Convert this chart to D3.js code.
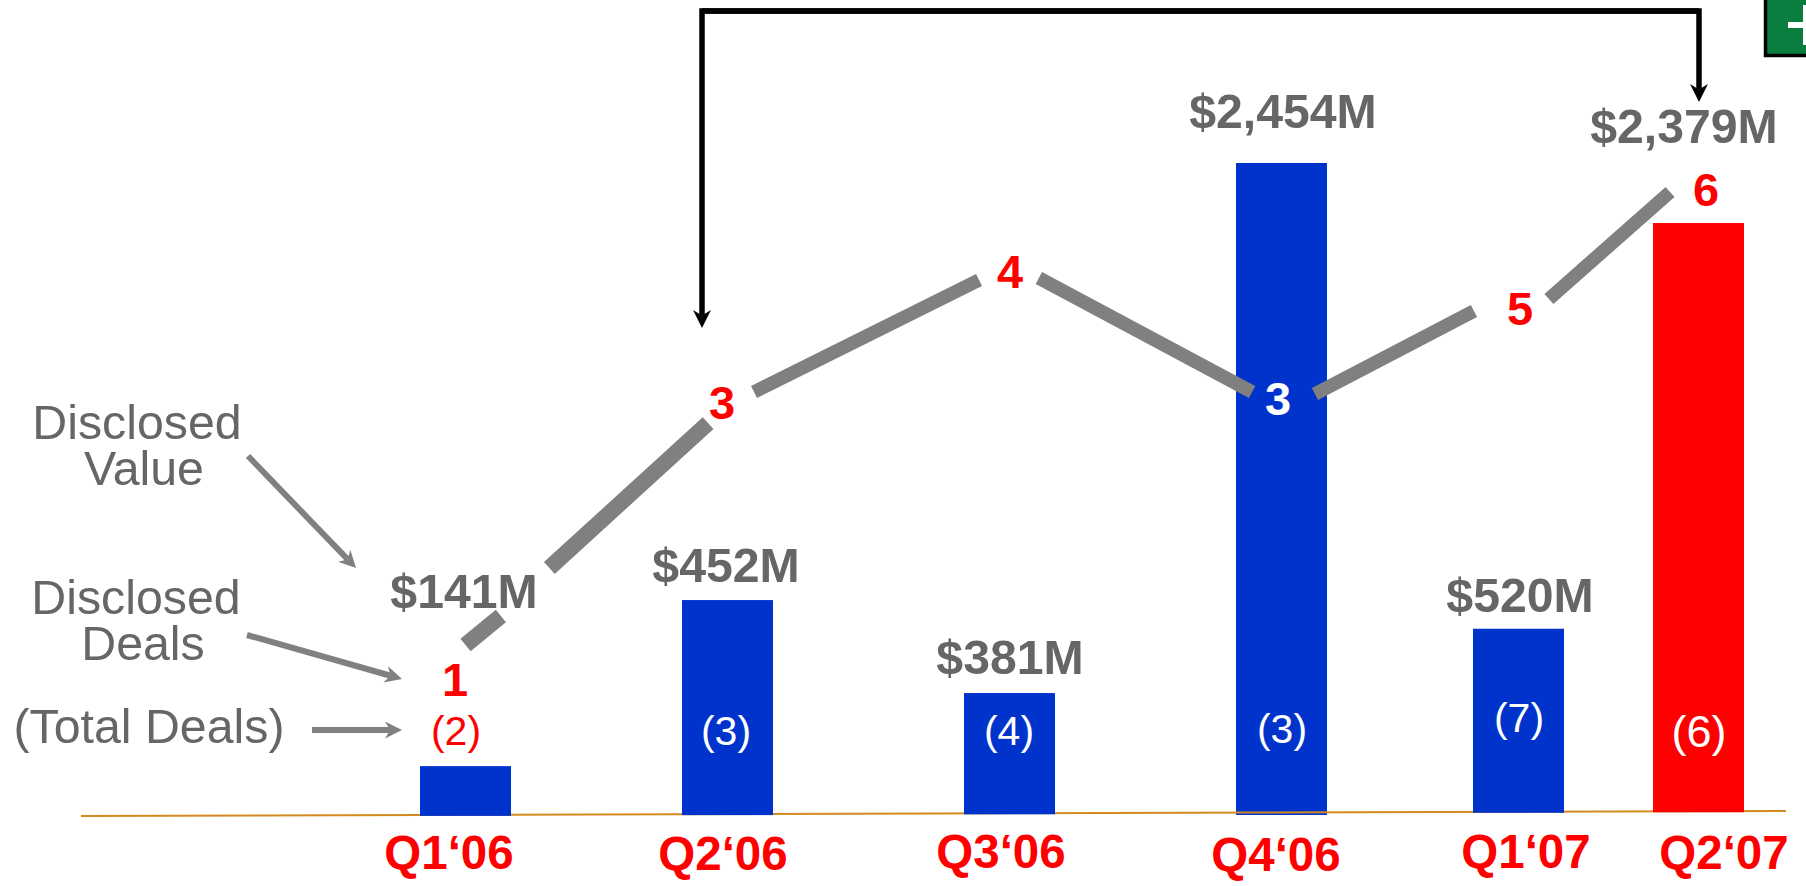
<!DOCTYPE html>
<html>
<head>
<meta charset="utf-8">
<script src="https://cdn.jsdelivr.net/npm/d3@7"></script>
<style>
  html, body { margin: 0; background: #fff; }
  svg { display: block; }
  text { font-family: "Liberation Sans", Arial, sans-serif; text-anchor: middle; }
  .value { font-size: 48.2px; font-weight: bold; fill: #666; }
  .quarter { font-size: 47.5px; font-weight: bold; fill: #f00; }
  .deal { font-size: 47px; font-weight: bold; }
  .total { font-size: 41px; }
  .note { font-size: 48.3px; fill: #666; }
</style>
</head>
<body>
<div id="chart"></div>
<script>
  // --- Data ---
  const quarters = ["Q1‘06", "Q2‘06", "Q3‘06", "Q4‘06", "Q1‘07", "Q2‘07"];
  const valueLabels = ["$141M", "$452M", "$381M", "$2,454M", "$520M", "$2,379M"];
  const dealLabels = ["1", "3", "4", "3", "5", "6"];
  const totalLabels = ["(2)", "(3)", "(4)", "(3)", "(7)", "(6)"];
  // bar heights as drawn, they are not proportional to the printed values
  const barLevels = [184, 809, 459, 2454, 701, 2228];
  // where the deal count sits on the (unprinted) deal axis, as drawn
  const dealLevels = [1, 3.83, 5.16, 3.87, 4.79, 6];
  // broken deal line: [quarter index, deal level] at each end of a piece
  const dealPieces = [
    [[0.00, 1.357], [0.135, 1.653]],
    [[0.32, 2.143], [0.926, 3.622]],
    [[1.094, 3.939], [1.892, 5.082]],
    [[2.108, 5.102], [2.892, 3.939]],
    [[3.141, 3.918], [3.812, 4.765]],
    [[4.169, 4.888], [4.842, 5.98]]
  ];
  const notes = ["Disclosed", "Value", "Disclosed", "Deals", "(Total Deals)"];

  // --- Layout ---
  const width = 1806, height = 886;
  const barWidth = 91;
  const barCentres = [465.5, 727.5, 1009.5, 1281.5, 1518.5, 1698.5];

  const x = d3.scaleLinear().domain(d3.range(6)).range(barCentres);
  const y = d3.scaleLinear().domain([0, 2454]).range([815, 163]);
  const yDeal = d3.scaleLinear().domain([1, 6]).range([680, 190]);
  // baseline is slightly tilted in the original
  const baseline = d3.scaleLinear().domain([81, 1786]).range([816, 811]);

  // label anchors, the labels do not sit exactly on the bar centres
  const valueX = d3.scaleOrdinal(quarters, [464, 726, 1010, 1283, 1520, 1684]);
  const valueY = d3.scaleOrdinal(quarters, [608, 582, 674, 128, 612, 143]);
  const quarterX = d3.scaleOrdinal(quarters, [449, 723, 1001, 1276, 1526, 1724]);
  const quarterY = d3.scaleOrdinal(quarters, [869, 870, 868, 871, 868, 869]);
  const dealX = d3.scaleOrdinal(quarters, [455, 722, 1010, 1278, 1520, 1706]);
  const totalX = d3.scaleOrdinal(quarters, [456, 726, 1009, 1282, 1519, 1699]);
  const totalY = d3.scaleOrdinal(quarters, [745, 745, 745, 743, 732, 747]);
  const noteX = [137, 144, 136, 143, 149];
  const noteY = [439, 485, 614, 660, 743];

  const svg = d3.select("#chart").append("svg")
    .attr("width", width)
    .attr("height", height);

  // Arrow head, the shaft stops at the notch so it does not poke through the tip
  const headNotch = 3;
  function arrowHead(id, color, size) {
    svg.append("defs").append("marker")
      .attr("id", id)
      .attr("viewBox", "0 0 10 10")
      .attr("refX", headNotch).attr("refY", 5)
      .attr("markerUnits", "userSpaceOnUse")
      .attr("markerWidth", size).attr("markerHeight", size)
      .attr("orient", "auto")
      .append("path")
      .attr("d", `M0,0L10,5L0,10L${headNotch},5Z`)
      .attr("fill", color);
  }
  arrowHead("head-grey", "#808080", 17);
  arrowHead("head-black", "#000", 18);

  // pull the end of a shaft back from the tip by the head length past the notch
  function shaft(points, size) {
    const [a, b] = points.slice(-2);
    const len = Math.hypot(b[0] - a[0], b[1] - a[1]);
    const back = size * (10 - headNotch) / 10;
    const end = [b[0] - (b[0] - a[0]) / len * back, b[1] - (b[1] - a[1]) / len * back];
    return d3.line()([...points.slice(0, -1), end]);
  }

  // Baseline
  svg.append("line")
    .attr("x1", 81).attr("y1", baseline(81))
    .attr("x2", 1786).attr("y2", baseline(1786))
    .attr("stroke", "#d48a20")
    .attr("stroke-width", 2);

  // Bars
  const barBottom = i => baseline(x(i)) + (i === 3 ? 2.5 : 1);
  svg.append("g")
    .selectAll("rect")
    .data(quarters)
    .join("rect")
      .attr("x", (_, i) => x(i) - barWidth / 2)
      .attr("width", barWidth)
      .attr("y", (_, i) => y(barLevels[i]))
      .attr("height", (_, i) => barBottom(i) - y(barLevels[i]))
      .attr("fill", (_, i) => i === 5 ? "#f00" : "#0033cc");

  // Baseline runs over the Q4 bar only
  svg.append("line")
    .attr("x1", x(3) - barWidth / 2).attr("y1", baseline(x(3) - barWidth / 2))
    .attr("x2", x(3) + barWidth / 2).attr("y2", baseline(x(3) + barWidth / 2))
    .attr("stroke", "#d48a20")
    .attr("stroke-width", 2);

  // Broken deal line
  const dealLine = d3.line().x(d => x(d[0])).y(d => yDeal(d[1]));
  svg.append("g")
    .selectAll("path")
    .data(dealPieces)
    .join("path")
      .attr("d", dealLine)
      .attr("fill", "none")
      .attr("stroke", "#808080")
      .attr("stroke-width", (_, i) => i < 2 ? 16 : 13.5);

  // Black bracket from Q2'06 to Q2'07
  const bracket = svg.append("g")
    .attr("fill", "none")
    .attr("stroke", "#000")
    .attr("stroke-width", 5.5);
  bracket.append("path")
    .attr("d", shaft([[1699, 11], [702, 11], [702, 328]], 18))
    .attr("marker-end", "url(#head-black)");
  bracket.append("path")
    .attr("d", shaft([[702, 11], [1699, 11], [1699, 102]], 18))
    .attr("marker-end", "url(#head-black)");

  // Grey pointer arrows
  svg.append("g")
    .selectAll("path")
    .data([
      [[248, 456], [356, 568]],
      [[247, 635], [402, 679]],
      [[312, 730], [402, 730]]
    ])
    .join("path")
      .attr("d", d => shaft(d, 17))
      .attr("fill", "none")
      .attr("stroke", "#808080")
      .attr("stroke-width", 6)
      .attr("marker-end", "url(#head-grey)");

  // Labels
  svg.append("g").selectAll("text").data(quarters).join("text")
    .attr("class", "value")
    .attr("x", d => valueX(d)).attr("y", d => valueY(d))
    .text((_, i) => valueLabels[i]);

  svg.append("g").selectAll("text").data(quarters).join("text")
    .attr("class", "quarter")
    .attr("x", d => quarterX(d)).attr("y", d => quarterY(d))
    .text(d => d);

  svg.append("g").selectAll("text").data(quarters).join("text")
    .attr("class", "deal")
    .attr("x", d => dealX(d))
    .attr("y", (_, i) => yDeal(dealLevels[i]) + 16)
    .attr("fill", (_, i) => i === 3 ? "#fff" : "#f00")
    .text((_, i) => dealLabels[i]);

  svg.append("g").selectAll("text").data(quarters).join("text")
    .attr("class", "total")
    .attr("x", d => totalX(d)).attr("y", d => totalY(d))
    .attr("fill", (_, i) => i === 0 ? "#f00" : "#fff")
    .style("font-size", (_, i) => i === 5 ? "45px" : null)
    .text((_, i) => totalLabels[i]);

  svg.append("g").selectAll("text").data(notes).join("text")
    .attr("class", "note")
    .attr("x", (_, i) => noteX[i]).attr("y", (_, i) => noteY[i])
    .text(d => d);

  // Green expand button clipped by the top right corner
  const button = svg.append("g");
  button.append("rect")
    .attr("x", 1765.5).attr("y", -4).attr("width", 50).attr("height", 59.5)
    .attr("fill", "#0a7d40").attr("stroke", "#000").attr("stroke-width", 3.5);
  button.append("path")
    .attr("d", "M1788,25H1806M1806,5V45")
    .attr("stroke", "#fff").attr("stroke-width", 6);
</script>
</body>
</html>
